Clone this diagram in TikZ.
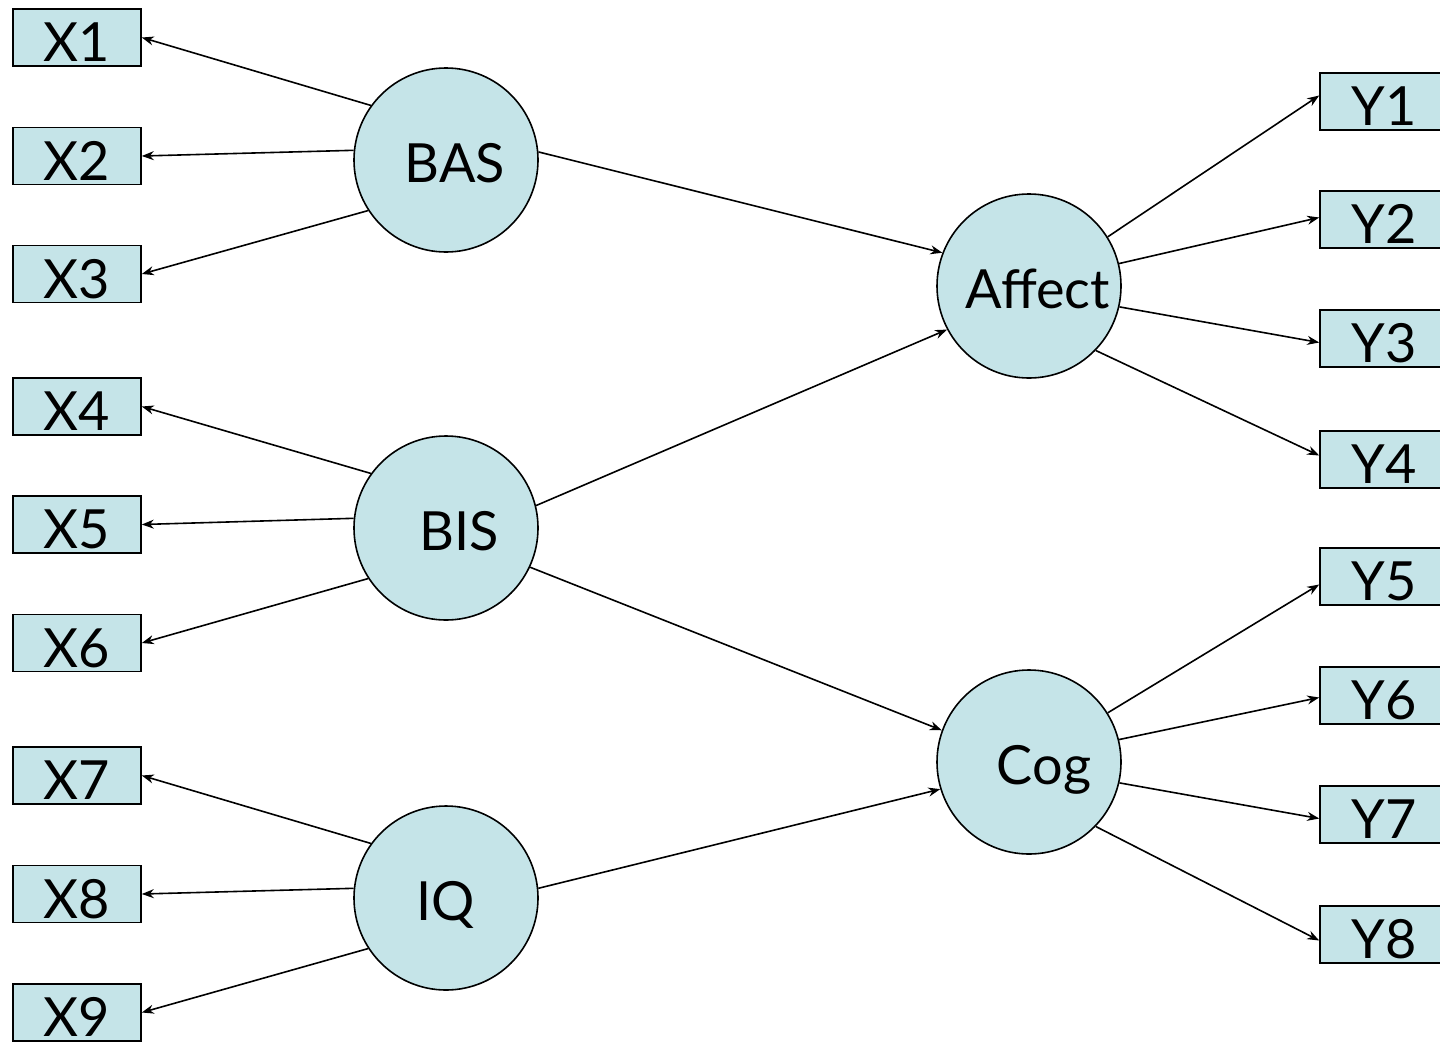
\documentclass[tikz,border=0pt]{standalone}
\usepackage{fontspec}
\setmainfont{Lato}
\usetikzlibrary{arrows.meta}
\definecolor{nodefill}{RGB}{197,228,232}
\begin{document}
\begin{tikzpicture}[x=1pt,y=-1pt,
  obs/.style={draw=black, line width=1.6pt, fill=nodefill, rectangle, inner sep=0pt,
    minimum width=128pt, minimum height=57pt, text height=48pt, text depth=0pt,
    font=\fontsize{54}{54}\selectfont},
  lat/.style={draw=black, line width=1.6pt, fill=nodefill, circle, inner sep=0pt,
    minimum size=184pt, text height=44pt, text depth=0pt, font=\fontsize{54}{54}\selectfont},
  conn/.style={line width=1.6pt, -{Stealth[length=12pt,width=9pt]}}]
\useasboundingbox (0,0) rectangle (1440,1042);
% observed X
\node[obs] (X1) at (77,37.5) {X1};
\node[obs] (X2) at (77,156) {X2};
\node[obs] (X3) at (77,274) {X3};
\node[obs] (X4) at (77,406.5) {X4};
\node[obs] (X5) at (77,524.5) {X5};
\node[obs] (X6) at (77,643) {X6};
\node[obs] (X7) at (77,775.5) {X7};
\node[obs] (X8) at (77,894) {X8};
\node[obs] (X9) at (77,1012.5) {X9};
% observed Y
\node[obs] (Y1) at (1384,101.5) {Y1};
\node[obs] (Y2) at (1384,219.5) {Y2};
\node[obs] (Y3) at (1384,338.5) {Y3};
\node[obs] (Y4) at (1384,459.5) {Y4};
\node[obs] (Y5) at (1384,576.5) {Y5};
\node[obs] (Y6) at (1384,695.5) {Y6};
\node[obs] (Y7) at (1384,814.5) {Y7};
\node[obs] (Y8) at (1384,934.5) {Y8};
% latent
\node[lat] (BAS) at (446,160) {\hspace*{18pt}BAS};
\node[lat] (BIS) at (446,528) {\hspace*{26pt}BIS};
\node[lat] (IQ) at (446,898) {IQ};
\node[lat] (Affect) at (1029,286) {\hspace*{18pt}Affect};
\node[lat] (Cog) at (1029,762) {\hspace*{30pt}Cog};
% loadings X
\draw[conn] (BAS.144) -- (X1.east);
\draw[conn] (BAS.174) -- (X2.east);
\draw[conn] (BAS.213) -- (X3.east);
\draw[conn] (BIS.144) -- (X4.east);
\draw[conn] (BIS.174) -- (X5.east);
\draw[conn] (BIS.213) -- (X6.east);
\draw[conn] (IQ.144) -- (X7.east);
\draw[conn] (IQ.174) -- (X8.east);
\draw[conn] (IQ.213) -- (X9.east);
% structural
\draw[conn] (BAS.5) -- (Affect.159);
\draw[conn] (BIS.14) -- (Affect.208);
\draw[conn] (BIS.-25) -- (Cog.160);
\draw[conn] (IQ.6) -- (Cog.197);
% loadings Y
\draw[conn] (Affect.32) -- ([yshift=6pt]Y1.west);
\draw[conn] (Affect.14) -- ([yshift=2pt]Y2.west);
\draw[conn] (Affect.-13) -- ([yshift=-4pt]Y3.west);
\draw[conn] (Affect.-44) -- ([yshift=4pt]Y4.west);
\draw[conn] (Cog.32) -- ([yshift=-8pt]Y5.west);
\draw[conn] (Cog.14) -- ([yshift=-2pt]Y6.west);
\draw[conn] (Cog.-13) -- ([yshift=-4pt]Y7.west);
\draw[conn] (Cog.-44) -- ([yshift=-6pt]Y8.west);
\end{tikzpicture}
\end{document}
